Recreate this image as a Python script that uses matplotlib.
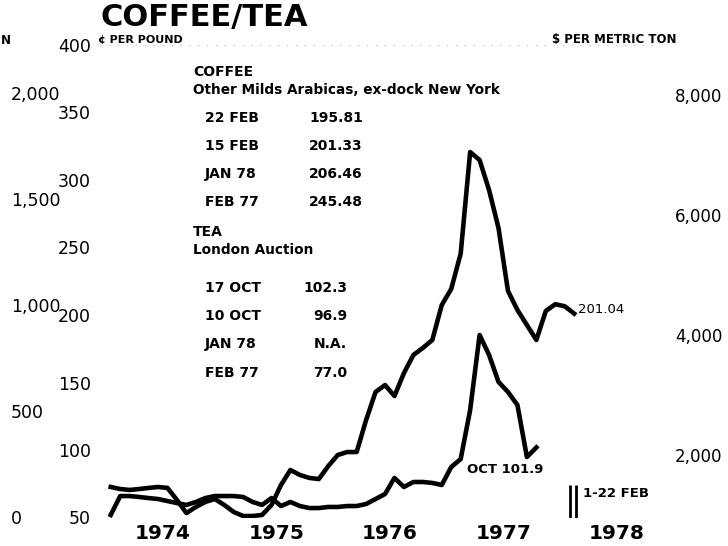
import matplotlib.pyplot as plt
import numpy as np

plt.rcParams['font.family'] = ['DejaVu Sans']

# monthly prices, cents per pound, starting Jan 1974
coffee = [72.6, 71.1, 70.4, 71.1, 71.9, 72.6, 71.9, 63.0, 53.3, 57.8, 61.5, 63.7,
          59.3, 54.1, 51.1, 51.1, 51.9, 59.3, 74.1, 85.2, 81.5, 79.3, 78.5, 88.1,
          96.3, 98.5, 98.5, 122.2, 143.0, 148.1, 140.0, 157.0, 170.4, 175.6, 181.5, 207.4,
          219.3, 245.48, 320.7, 314.8, 292.6, 264.4, 217.8, 203.7, 192.6, 181.5, 203.0, 208.0,
          206.46, 201.04]
tea = [51.9, 65.9, 65.9, 65.2, 64.4, 63.7, 62.2, 60.7, 59.3, 61.5, 64.4, 65.9,
       65.9, 65.9, 65.2, 61.5, 59.3, 64.4, 58.5, 61.5, 58.5, 57.0, 57.0, 57.8,
       57.8, 58.5, 58.5, 60.0, 63.7, 67.4, 79.3, 72.6, 76.3, 76.3, 75.6, 74.1,
       87.4, 93.3, 129.6, 185.2, 170.4, 150.4, 143.0, 133.3, 94.8, 101.9]

years = [1974, 1975, 1976, 1977, 1978]
feb_weeks = [1978 + 31 / 365, 1978 + 52 / 365]

coffee_dates = ['22 FEB', '15 FEB', 'JAN 78', 'FEB 77']
coffee_quotes = ['195.81', '201.33', '206.46', '245.48']
tea_dates = ['17 OCT', '10 OCT', 'JAN 78', 'FEB 77']
tea_quotes = ['102.3', '96.9', 'N.A.', '77.0']

t_coffee = 1974 + (np.arange(len(coffee)) + 0.5) / 12
t_tea = 1974 + (np.arange(len(tea)) + 0.5) / 12

W, H = 728, 546
fig = plt.figure(figsize=(W / 100, H / 100), dpi=100)

# plot area in pixels: left 100, right 660, top 45, bottom 517.5
ax = fig.add_axes([100 / W, (H - 517.5) / H, 560 / W, 472.5 / H])
ax.set_xlim(1974 - 6 / 113.5, 1974 + 554 / 113.5)
ax.set_ylim(50, 400)
for s in ax.spines.values():
    s.set_visible(False)

ax.plot(t_coffee, coffee, color='black', lw=3.3)
ax.plot(t_tea, tea, color='black', lw=3.3)

# faint dotted rules top and bottom
for v in (400, 50):
    ax.axhline(v, color='#b0b0b0', lw=0.8, ls=(0, (1, 7)))

ax.vlines(feb_weeks, 50, 74, color='black', lw=2.0)
ax.annotate('1-22 FEB', xy=(feb_weeks[1], 74), xytext=(5, -6), textcoords='offset points',
            ha='left', va='center', fontsize=9.5, fontweight='bold')
ax.annotate('201.04', xy=(t_coffee[-1], coffee[-1]), xytext=(3, 3), textcoords='offset points',
            ha='left', va='center', fontsize=9.5)
ax.annotate('OCT 101.9', xy=(t_tea[-1], tea[-1]), xytext=(5, -16), textcoords='offset points',
            ha='right', va='center', fontsize=9.5, fontweight='bold')

ax.set_xticks([y + 0.5 for y in years])
ax.set_xticklabels([str(y) for y in years], fontsize=14.5, fontweight='bold')
ax.tick_params(axis='x', length=0, pad=5)

ax.set_yticks(np.arange(50, 401, 50))
ax.set_yticklabels([str(v) for v in range(50, 401, 50)], fontsize=12.5)
ax.tick_params(axis='y', length=0, pad=6.5)

# outer left scale
left2 = ax.secondary_yaxis((8 - 100) / 560, functions=(lambda c: (c - 50) * 6.36,
                                                      lambda u: u / 6.36 + 50))
left2.set_alignment('right')
left2.set_yticks([0, 500, 1000, 1500, 2000])
left2.set_yticklabels(['0', '500', '1,000', '1,500', '2,000'], fontsize=12.5)
left2.tick_params(length=0, pad=2)
for s in left2.spines.values():
    s.set_visible(False)

# dollars per metric ton on the right
right = ax.secondary_yaxis((672 - 100) / 560, functions=(lambda c: c * 22.5 - 167,
                                                         lambda d: (d + 167) / 22.5))
right.set_alignment('right')
right.set_yticks([2000, 4000, 6000, 8000])
right.set_yticklabels(['2,000', '4,000', '6,000', '8,000'], fontsize=12)
right.tick_params(length=0, pad=2)
for s in right.spines.values():
    s.set_visible(False)


def put(x, y, s, **kw):
    kw.setdefault('va', 'center')
    fig.text(x / W, 1 - y / H, s, **kw)


put(100, 26, 'COFFEE/TEA', fontsize=22, fontweight='bold', va='baseline')
put(98, 40, '¢ PER POUND', fontsize=8, fontweight='bold')
put(552, 39, '$ PER METRIC TON', fontsize=8.5, fontweight='bold')
put(1, 40, 'N', fontsize=8.5, fontweight='bold')

put(193, 72, 'COFFEE', fontsize=10, fontweight='bold')
put(193, 90, 'Other Milds Arabicas, ex-dock New York', fontsize=9.8, fontweight='bold')
for i, (d, q) in enumerate(zip(coffee_dates, coffee_quotes)):
    put(205, 118 + 28 * i, d, fontsize=10, fontweight='bold')
    put(363, 118 + 28 * i, q, fontsize=10, fontweight='bold', ha='right')

put(193, 232, 'TEA', fontsize=10, fontweight='bold')
put(193, 250, 'London Auction', fontsize=9.8, fontweight='bold')
for i, (d, q) in enumerate(zip(tea_dates, tea_quotes)):
    put(205, 288 + 28.2 * i, d, fontsize=10, fontweight='bold')
    put(347, 288 + 28.2 * i, q, fontsize=10, fontweight='bold', ha='right')

fig.savefig('out.png', dpi=100)
